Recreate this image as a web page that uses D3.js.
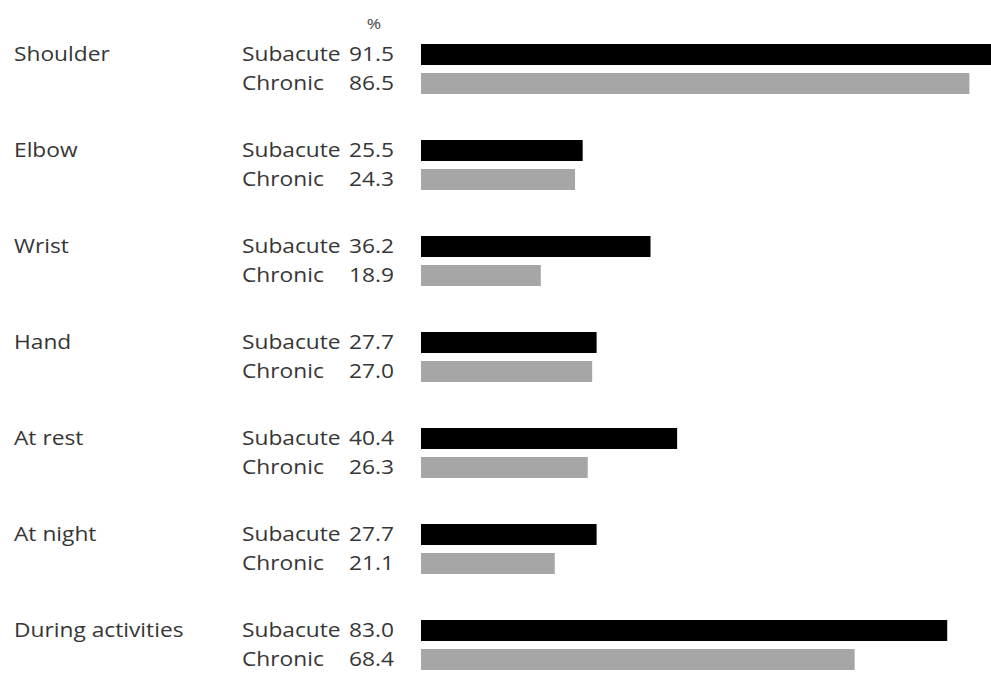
<!DOCTYPE html>
<html>
<head>
<meta charset="utf-8">
<script src="https://cdn.jsdelivr.net/npm/d3@7"></script>
<style>
  html, body { margin: 0; padding: 0; background: #fff; overflow: hidden; }
  svg { display: block; }
  text { font-family: "Open Sans", "Noto Sans", sans-serif; fill: #363636; }
</style>
</head>
<body>
<svg id="chart" width="991" height="674"></svg>
<script>
// Pain location / timing, percentage of patients per stage
const categories = ["Shoulder", "Elbow", "Wrist", "Hand", "At rest", "At night", "During activities"];
const seriesNames = ["Subacute", "Chronic"];
const subacute = [91.5, 25.5, 36.2, 27.7, 40.4, 27.7, 83.0];
const chronic  = [86.5, 24.3, 18.9, 27.0, 26.3, 21.1, 68.4];
const seriesColors = ["#000000", "#a6a6a6"];

const svg = d3.select("#chart");

const y = d3.scaleBand().domain(categories).range([30, 702]).padding(0);
const yInner = d3.scaleBand().domain(seriesNames).range([14, 64]).paddingInner(0.276).paddingOuter(0);
const x = d3.scaleLinear().domain([0, 100]).range([421, 1055]);

// labels are set in a slightly widened face
const STRETCH = 1.16;
const FONT = "19.6px";
const place = (tx, ty) => `translate(${tx},${ty}) scale(${STRETCH},1)`;

const rows = categories.map((c, i) => ({
  category: c,
  values: [
    { series: "Subacute", value: subacute[i], color: seriesColors[0] },
    { series: "Chronic", value: chronic[i], color: seriesColors[1] }
  ]
}));

// unit marker above the value column
svg.append("text")
  .attr("transform", place(374, 29))
  .attr("text-anchor", "middle")
  .style("font-size", "15px")
  .style("fill", "#444")
  .text("%");

const g = svg.selectAll("g.group").data(rows).join("g")
  .attr("class", "group")
  .attr("transform", d => `translate(0,${y(d.category)})`);

g.append("text")
  .attr("transform", place(14, yInner("Subacute") + yInner.bandwidth() / 2))
  .attr("dy", "0.35em")
  .style("font-size", FONT)
  .text(d => d.category);

const item = g.selectAll("g.item").data(d => d.values).join("g").attr("class", "item");

item.append("rect")
  .attr("x", x(0))
  .attr("y", d => yInner(d.series))
  .attr("width", d => x(d.value) - x(0))
  .attr("height", yInner.bandwidth())
  .attr("fill", d => d.color);

item.append("text")
  .attr("transform", d => place(242, yInner(d.series) + yInner.bandwidth() / 2))
  .attr("dy", "0.35em")
  .style("font-size", FONT)
  .text(d => d.series);

item.append("text")
  .attr("transform", d => place(394, yInner(d.series) + yInner.bandwidth() / 2))
  .attr("dy", "0.35em")
  .attr("text-anchor", "end")
  .style("font-size", FONT)
  .text(d => d.value.toFixed(1));
</script>
</body>
</html>
